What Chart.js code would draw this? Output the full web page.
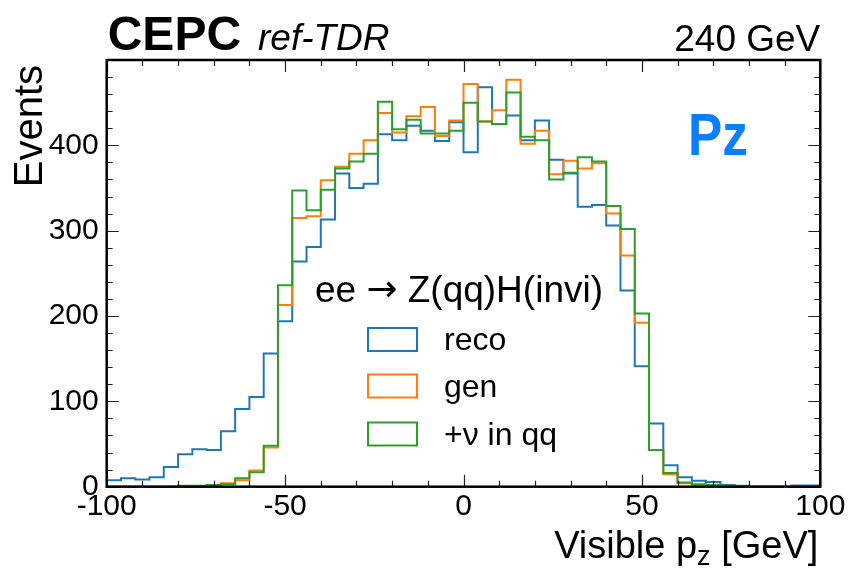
<!DOCTYPE html>
<html>
<head>
<meta charset="utf-8">
<script src="https://cdn.jsdelivr.net/npm/chart.js@4"></script>
<style>
  body { margin: 0; background: #fff; }
  canvas { display: block; }
</style>
</head>
<body>
<canvas id="chart" width="852" height="569"></canvas>
<script>
// 50 bins of 4 GeV from -100 to 100 (lower edges)
const binLow = Array.from({ length: 50 }, (_, i) => -100 + 4 * i);
const xTicks = [-100, -50, 0, 50, 100];
const yTicks = [0, 100, 200, 300, 400];

const reco = [7.5, 10, 8.5, 11, 23, 38, 44, 43, 65, 91,
  105, 156, 194, 264, 281, 313, 367, 350, 355, 413,
  406, 423, 417, 405, 427, 392, 468, 425, 435, 406,
  429, 383, 367, 328, 330, 306, 230, 141, 74, 25,
  11, 7, 5.5, 2, 0.5, 0, 0, 0, 1.5, 1.5];
const gen = [0, 0, 0, 0, 0, 0.5, 0.5, 1, 4, 7.5,
  19, 46, 213, 315, 317, 359, 375, 390, 406, 438,
  415, 434, 445, 411, 429, 472, 428, 441, 477, 402,
  417, 366, 382, 373, 379, 320, 271, 192, 43, 14.5,
  4, 2, 1, 0.5, 0, 0, 0, 0, 0, 0];
const withNu = [0, 0, 0, 0, 0, 1, 1, 2, 3, 10,
  17, 48, 236, 347, 324, 348, 373, 381, 390, 451,
  419, 430, 414, 414, 417, 450, 428, 425, 462, 410,
  406, 360, 368, 386, 381, 329, 302, 203, 43, 16,
  5, 3, 2, 1, 1, 0, 0, 0, 0, 0];

const FONT = "'Liberation Sans', Arial, Helvetica, sans-serif";
const SYM = "'DejaVu Sans', sans-serif";

// step outline: one point per lower edge, plus the last upper edge
function steps(values) {
  const pts = binLow.map((x, i) => ({ x: x, y: values[i] }));
  pts.push({ x: binLow[binLow.length - 1] + 4, y: values[values.length - 1] });
  return pts;
}

function hist(label, values, color, order) {
  return {
    label: label,
    data: steps(values),
    borderColor: color,
    borderWidth: 2,
    stepped: true,
    pointRadius: 0,
    fill: false,
    order: order
  };
}

function put(ctx, str, x, y, font, color, align, maxW) {
  ctx.font = font;
  ctx.fillStyle = color;
  ctx.textAlign = align;
  ctx.textBaseline = 'alphabetic';
  if (maxW) ctx.fillText(str, x, y, maxW); else ctx.fillText(str, x, y);
}

// draws [text, font, dy] pieces in a row, squeezed to fit maxW
function row(ctx, parts, x, y, maxW) {
  const widths = parts.map(p => { ctx.font = p[1]; return ctx.measureText(p[0]).width; });
  const total = widths.reduce((s, w) => s + w, 0);
  const k = Math.min(1, maxW / total);
  ctx.save();
  ctx.translate(x, y);
  ctx.scale(k, 1);
  let cx = 0;
  parts.forEach((p, i) => {
    put(ctx, p[0], cx, p[2] || 0, p[1], '#000', 'left');
    cx += widths[i];
  });
  ctx.restore();
  return total * k;
}

const decor = {
  id: 'decor',
  afterDatasetsDraw(chart) {
    const { ctx, chartArea: a, scales: { x, y } } = chart;
    ctx.save();
    // inward ticks on all four sides
    ctx.strokeStyle = '#222';
    ctx.lineWidth = 1.2;
    ctx.beginPath();
    for (let v = -100; v <= 100; v += 10) {
      const px = Math.round(x.getPixelForValue(v)) + 0.5;
      const len = v % 50 === 0 ? 12 : 6;
      ctx.moveTo(px, a.bottom); ctx.lineTo(px, a.bottom - len);
      ctx.moveTo(px, a.top); ctx.lineTo(px, a.top + len);
    }
    for (let v = 0; v <= 500; v += 20) {
      const py = Math.round(y.getPixelForValue(v)) + 0.5;
      const len = v % 100 === 0 ? 12 : 6;
      ctx.moveTo(a.left, py); ctx.lineTo(a.left + len, py);
      ctx.moveTo(a.right, py); ctx.lineTo(a.right - len, py);
    }
    ctx.stroke();
    // frame
    ctx.lineWidth = 2.5;
    ctx.strokeStyle = '#000';
    ctx.strokeRect(a.left, a.top, a.right - a.left, a.bottom - a.top);
    ctx.restore();
  },
  afterDraw(chart) {
    const { ctx, chartArea: a } = chart;
    ctx.save();
    // header
    put(ctx, 'CEPC', a.left + 1, 50, 'bold 48px ' + FONT, '#000', 'left', 137);
    put(ctx, 'ref-TDR', 258, 50, 'italic 37px ' + FONT, '#000', 'left', 137);
    put(ctx, '240 GeV', a.right, 51, '37px ' + FONT, '#000', 'right', 148);

    // y title, top aligned
    ctx.save();
    ctx.translate(42, 65);
    ctx.rotate(-Math.PI / 2);
    put(ctx, 'Events', 0, 0, '40px ' + FONT, '#000', 'right', 125);
    ctx.restore();

    // x title with subscript, right aligned to the frame
    const xt = [['Visible p', '38px ' + FONT], ['z', '27px ' + FONT, 7], [' [GeV]', '38px ' + FONT]];
    ctx.font = '38px ' + FONT;
    let tw = 0;
    xt.forEach(p => { ctx.font = p[1]; tw += ctx.measureText(p[0]).width; });
    row(ctx, xt, a.right - 2 - Math.min(tw, 267), 558, 267);

    // label in the corner
    put(ctx, 'Pz', 688, 155, 'bold 60px ' + FONT, '#0a80ff', 'left', 60);

    // legend with process header
    row(ctx, [
      ['ee ', '37px ' + FONT],
      ['\u2192', '37px ' + SYM, -1],
      [' Z(qq)H(invi)', '37px ' + FONT]
    ], 315, 302, 298);
    const rows = [328, 374.5, 422.5];
    chart.data.datasets.forEach((ds, i) => {
      ctx.strokeStyle = ds.borderColor;
      ctx.lineWidth = 2;
      ctx.strokeRect(368, rows[i], 49, 23);
      put(ctx, ds.label, 444, rows[i] + 22, '32px ' + FONT, '#000', 'left');
    });
    ctx.restore();
  }
};

new Chart(document.getElementById('chart'), {
  type: 'line',
  data: {
    datasets: [
      hist('reco', reco, '#1f77b4', 3),
      hist('gen', gen, '#ff7f0e', 2),
      hist('+\u03bd in qq', withNu, '#2ca02c', 1)
    ]
  },
  options: {
    responsive: false,
    devicePixelRatio: 1,
    animation: false,
    layout: { padding: { top: 60, right: 31.7, left: 0, bottom: 0 } },
    plugins: { legend: { display: false }, tooltip: { enabled: false } },
    scales: {
      x: {
        type: 'linear',
        min: -100,
        max: 100,
        afterFit: (s) => { s.height = 82.3; },
        afterBuildTicks: (s) => { s.ticks = xTicks.map(v => ({ value: v })); },
        ticks: {
          color: '#000',
          padding: 2,
          maxRotation: 0,
          font: { family: FONT, size: 30 },
          callback: (v) => String(v)
        },
        grid: { display: false, drawTicks: false },
        border: { display: false }
      },
      y: {
        min: 0,
        max: 500,
        afterFit: (s) => { s.width = 106.7; },
        afterBuildTicks: (s) => { s.ticks = yTicks.map(v => ({ value: v })); },
        ticks: {
          color: '#000',
          padding: 8,
          font: { family: FONT, size: 30 },
          callback: (v) => String(v)
        },
        grid: { display: false, drawTicks: false },
        border: { display: false }
      }
    }
  },
  plugins: [decor]
});
</script>
</body>
</html>
